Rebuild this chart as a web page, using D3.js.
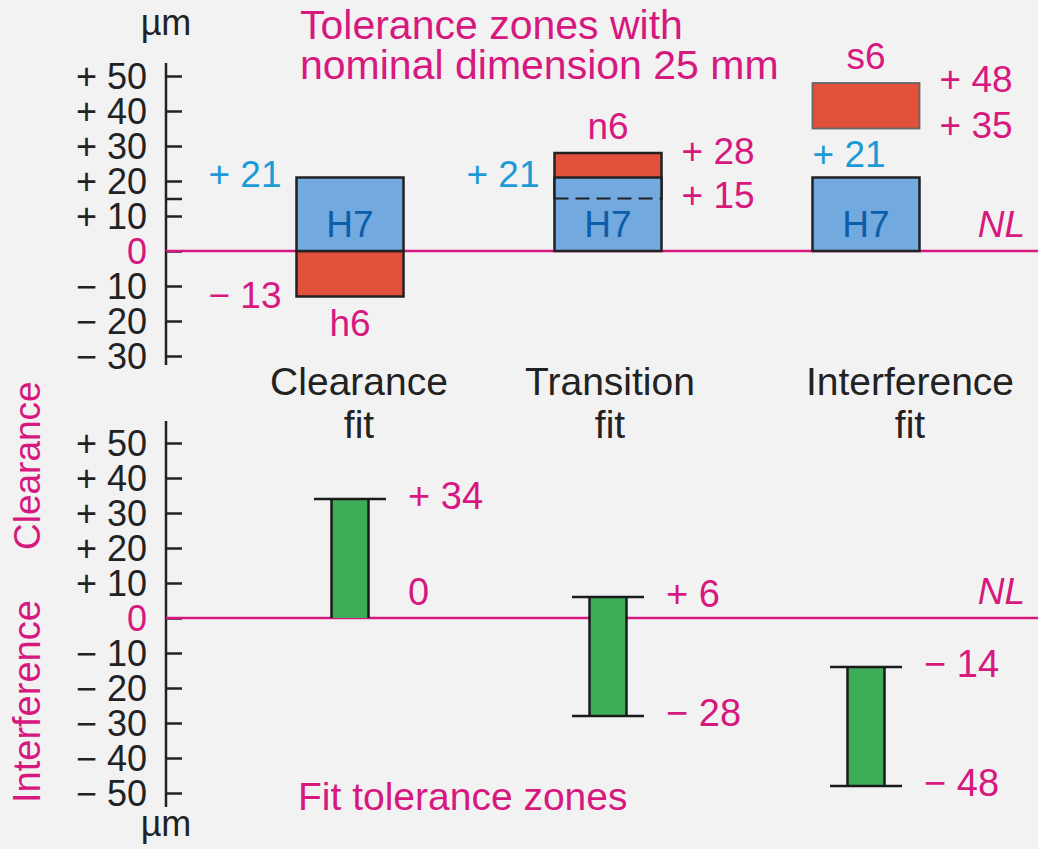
<!DOCTYPE html>
<html>
<head>
<meta charset="utf-8">
<script src="https://cdn.jsdelivr.net/npm/d3@7"></script>
<style>
  html, body { margin: 0; padding: 0; background: #f2f2f2; }
  svg { display: block; }
</style>
</head>
<body>
<div id="chart"></div>
<script>
// valori (µm, dimensione nominale 25 mm)
var fits = ["Clearance", "Transition", "Interference"];
var holeName = "H7";
var holeLower = [0, 0, 0];
var holeUpper = [21, 21, 21];
var shaftNames = ["h6", "n6", "s6"];
var shaftLower = [-13, 15, 35];
var shaftUpper = [0, 28, 48];
// fit tolerance zones (clearance positive, interference negative)
var fitMax = [34, 6, -14];
var fitMin = [0, -28, -48];
var topTicks = [50, 40, 30, 20, 15, 10, 0, -10, -20, -30];
var bottomTicks = [50, 40, 30, 20, 10, 0, -10, -20, -30, -40, -50];

var width = 1038;
var height = 849;
var magenta = "#d6187f";
var font = "'Liberation Sans', Arial, sans-serif";

var svg = d3.select("#chart")
            .append("svg")
            .attr("width", width)
            .attr("height", height)
            .style("font-family", font);

svg.append("rect")
   .attr("width", width)
   .attr("height", height)
   .attr("fill", "#f2f2f2");

var x = d3.scalePoint().domain(fits).range([350, 866]);
var yTop = d3.scaleLinear().domain([-30, 50]).range([356, 76]);
var yBot = d3.scaleLinear().domain([-50, 50]).range([793, 443]);
var axisX = 166;
var boxW = 107;
var barW = 37;
var capW = 72;

function fmt(v) {
    if (v > 0) return "+ " + v;
    if (v < 0) return "\u2212 " + (-v);
    return "0";
}

// asse verticale con tacche verso destra
function drawAxis(y, ticks, top, bottom) {
    var g = svg.append("g")
               .attr("transform", "translate(" + axisX + ",0)");
    g.call(d3.axisLeft(y)
             .tickValues(ticks)
             .tickSize(-16)
             .tickPadding(19)
             .tickFormat(function(d) { return d === 15 ? "" : fmt(d); }));
    g.select(".domain").remove();
    g.selectAll(".tick line")
     .attr("stroke", "#222")
     .attr("stroke-width", 2.5);
    g.selectAll(".tick text")
     .attr("font-family", font)
     .attr("font-size", 36)
     .attr("dy", "0.36em")
     .attr("fill", function(d) { return d === 0 ? magenta : "#222"; });
    g.append("line")
     .attr("y1", top)
     .attr("y2", bottom)
     .attr("stroke", "#222")
     .attr("stroke-width", 2.5);
}

function nominalLine(y) {
    svg.append("line")
       .attr("x1", axisX)
       .attr("x2", width)
       .attr("y1", y(0))
       .attr("y2", y(0))
       .attr("stroke", magenta)
       .attr("stroke-width", 2.5);
    svg.append("text")
       .attr("x", 1025)
       .attr("y", y(0) - 14)
       .attr("text-anchor", "end")
       .attr("font-size", 37)
       .attr("font-style", "italic")
       .attr("fill", magenta)
       .text("NL");
}

// ---------- parte superiore: zone di tolleranza ----------
drawAxis(yTop, topTicks, yTop(50) - 13, yTop(-30) + 9);
nominalLine(yTop);

svg.append("text")
   .attr("x", axisX)
   .attr("y", 35)
   .attr("text-anchor", "middle")
   .attr("font-size", 36)
   .attr("fill", "#222")
   .text("\u00b5m");

var title = svg.append("text")
               .attr("x", 300)
               .attr("y", 39)
               .attr("font-size", 41)
               .attr("fill", magenta);
title.append("tspan").attr("x", 300).text("Tolerance zones with");
title.append("tspan").attr("x", 300).attr("dy", 40).text("nominal dimension 25 mm");

var zones = svg.append("g");

fits.forEach(function(f, i) {
    var cx = x(f);
    var left = cx - boxW / 2;
    var sep = shaftLower[i] > holeUpper[i];

    // albero (rosso)
    zones.append("rect")
         .attr("x", left)
         .attr("width", boxW)
         .attr("y", yTop(shaftUpper[i]))
         .attr("height", yTop(shaftLower[i]) - yTop(shaftUpper[i]))
         .attr("fill", "#e0503a")
         .attr("stroke", sep ? "#666" : "#222")
         .attr("stroke-width", sep ? 1.8 : 2.5);

    // foro H7 (blu)
    zones.append("rect")
         .attr("x", left)
         .attr("width", boxW)
         .attr("y", yTop(holeUpper[i]))
         .attr("height", yTop(holeLower[i]) - yTop(holeUpper[i]))
         .attr("fill", "#72a9de")
         .attr("stroke", "#222")
         .attr("stroke-width", 2.5);

    // limite inferiore dell'albero nascosto dentro il foro
    if (shaftLower[i] > holeLower[i] && shaftLower[i] < holeUpper[i]) {
        zones.append("line")
             .attr("x1", left)
             .attr("x2", left + boxW)
             .attr("y1", yTop(shaftLower[i]))
             .attr("y2", yTop(shaftLower[i]))
             .attr("stroke", "#222")
             .attr("stroke-width", 2)
             .attr("stroke-dasharray", "14,7");
    }

    zones.append("text")
         .attr("x", cx)
         .attr("y", yTop(0) - 14)
         .attr("text-anchor", "middle")
         .attr("font-size", 37)
         .attr("fill", "#0d5ea8")
         .text(holeName);

    // +21 del foro
    zones.append("text")
         .attr("x", sep ? left : left - 15)
         .attr("y", sep ? yTop(holeUpper[i]) - 11 : yTop(holeUpper[i]) + 9)
         .attr("text-anchor", sep ? "start" : "end")
         .attr("font-size", 37)
         .attr("fill", "#1b9ad6")
         .text(fmt(holeUpper[i]));

    // nome dell'albero
    var below = shaftUpper[i] <= 0;
    zones.append("text")
         .attr("x", cx)
         .attr("y", below ? yTop(shaftLower[i]) + 39 : yTop(shaftUpper[i]) - 14)
         .attr("text-anchor", "middle")
         .attr("font-size", 37)
         .attr("fill", magenta)
         .text(shaftNames[i]);

    // scostamenti dell'albero
    if (below) {
        zones.append("text")
             .attr("x", left - 15)
             .attr("y", yTop(shaftLower[i]) + 11)
             .attr("text-anchor", "end")
             .attr("font-size", 37)
             .attr("fill", magenta)
             .text(fmt(shaftLower[i]));
    } else {
        [shaftUpper[i], shaftLower[i]].forEach(function(v, k) {
            zones.append("text")
                 .attr("x", left + boxW + 20)
                 .attr("y", yTop(v) + (k === 0 && !sep ? 11 : 9))
                 .attr("font-size", 37)
                 .attr("fill", magenta)
                 .text(fmt(v));
        });
    }
});

// etichette dei tipi di accoppiamento
var labelShift = [9, 2, 44];
fits.forEach(function(f, i) {
    var t = svg.append("text")
               .attr("x", x(f) + labelShift[i])
               .attr("y", 395)
               .attr("text-anchor", "middle")
               .attr("font-size", 39)
               .attr("fill", "#222");
    t.append("tspan").attr("x", x(f) + labelShift[i]).text(f);
    t.append("tspan").attr("x", x(f) + labelShift[i]).attr("dy", 43).text("fit");
});

// ---------- parte inferiore: zone di tolleranza dell'accoppiamento ----------
drawAxis(yBot, bottomTicks, yBot(50) - 22, yBot(-50) + 14);
nominalLine(yBot);

svg.append("text")
   .attr("x", axisX)
   .attr("y", 836)
   .attr("text-anchor", "middle")
   .attr("font-size", 36)
   .attr("fill", "#222")
   .text("\u00b5m");

svg.append("text")
   .attr("transform", "translate(40," + (yBot(0) - 68) + ") rotate(-90)")
   .attr("font-size", 37)
   .attr("fill", magenta)
   .text("Clearance");

svg.append("text")
   .attr("transform", "translate(40," + (yBot(0) + 185) + ") rotate(-90)")
   .attr("font-size", 38)
   .attr("fill", magenta)
   .text("Interference");

svg.append("text")
   .attr("x", 298)
   .attr("y", 810)
   .attr("font-size", 39)
   .attr("fill", magenta)
   .text("Fit tolerance zones");

var bars = svg.append("g");

fits.forEach(function(f, i) {
    var cx = x(f);
    var top = yBot(fitMax[i]);
    var bottom = yBot(fitMin[i]);

    bars.append("rect")
        .attr("x", cx - barW / 2)
        .attr("width", barW)
        .attr("y", top)
        .attr("height", bottom - top)
        .attr("fill", "#3dad58");

    [cx - barW / 2, cx + barW / 2].forEach(function(sx) {
        bars.append("line")
            .attr("x1", sx).attr("x2", sx)
            .attr("y1", top).attr("y2", bottom)
            .attr("stroke", "#1a1a1a")
            .attr("stroke-width", 2.5);
    });

    [fitMax[i], fitMin[i]].forEach(function(v) {
        if (v !== 0) {
            bars.append("line")
                .attr("x1", cx - capW / 2)
                .attr("x2", cx + capW / 2)
                .attr("y1", yBot(v))
                .attr("y2", yBot(v))
                .attr("stroke", "#1a1a1a")
                .attr("stroke-width", 2.5);
        }
        bars.append("text")
            .attr("x", cx + capW / 2 + 22)
            .attr("y", v === 0 ? yBot(v) - 13 : yBot(v) + 10)
            .attr("font-size", 38)
            .attr("fill", magenta)
            .text(fmt(v));
    });
});
</script>
</body>
</html>
